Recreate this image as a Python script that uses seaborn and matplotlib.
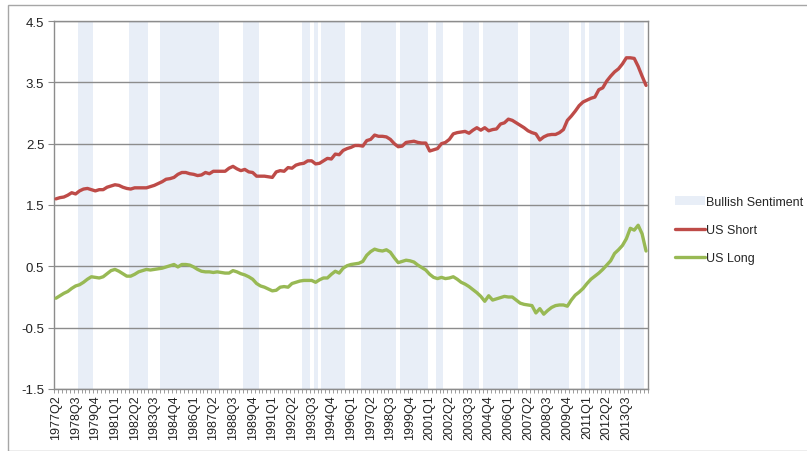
import matplotlib
matplotlib.use("Agg")
import matplotlib.pyplot as plt
from matplotlib.patches import Patch, Rectangle
from matplotlib.lines import Line2D
import numpy as np
import pandas as pd
import seaborn as sns

# ---------------- data ----------------
start_year, start_q, n_quarters = 1977, 2, 151
quarters = []
y, q = start_year, start_q
for _ in range(n_quarters):
    quarters.append(f"{y}Q{q}")
    q += 1
    if q > 4:
        q, y = 1, y + 1

us_short = [
    1.60, 1.62, 1.63, 1.66, 1.70, 1.68, 1.73, 1.76, 1.77, 1.75,
    1.73, 1.75, 1.75, 1.79, 1.81, 1.83, 1.82, 1.79, 1.77, 1.76,
    1.78, 1.78, 1.78, 1.78, 1.80, 1.82, 1.85, 1.88, 1.92, 1.93,
    1.95, 2.00, 2.03, 2.03, 2.01, 2.00, 1.98, 1.99, 2.03, 2.01,
    2.05, 2.05, 2.05, 2.05, 2.10, 2.13, 2.09, 2.06, 2.08, 2.04,
    2.03, 1.97, 1.97, 1.97, 1.96, 1.95, 2.04, 2.06, 2.05, 2.11,
    2.10, 2.15, 2.17, 2.18, 2.22, 2.22, 2.17, 2.18, 2.22, 2.26,
    2.25, 2.33, 2.32, 2.39, 2.42, 2.44, 2.47, 2.47, 2.46, 2.55,
    2.57, 2.64, 2.62, 2.62, 2.61, 2.57, 2.50, 2.45, 2.46, 2.52,
    2.53, 2.54, 2.52, 2.51, 2.51, 2.38, 2.40, 2.42, 2.50, 2.52,
    2.57, 2.66, 2.68, 2.69, 2.70, 2.67, 2.72, 2.76, 2.72, 2.76,
    2.71, 2.73, 2.74, 2.82, 2.84, 2.90, 2.88, 2.84, 2.80, 2.76,
    2.71, 2.68, 2.66, 2.56, 2.61, 2.64, 2.65, 2.65, 2.68, 2.73,
    2.88, 2.95, 3.03, 3.12, 3.18, 3.21, 3.24, 3.26, 3.38, 3.41,
    3.52, 3.60, 3.67, 3.72, 3.80, 3.90, 3.90, 3.89, 3.76, 3.60,
    3.45,
]

us_long = [
    -0.02, 0.02, 0.06, 0.09, 0.14, 0.18, 0.20, 0.24, 0.29, 0.33,
    0.32, 0.31, 0.33, 0.38, 0.43, 0.45, 0.42, 0.38, 0.34, 0.34,
    0.37, 0.41, 0.43, 0.45, 0.44, 0.45, 0.46, 0.47, 0.49, 0.51,
    0.53, 0.49, 0.53, 0.53, 0.52, 0.49, 0.45, 0.42, 0.41, 0.41,
    0.40, 0.41, 0.40, 0.39, 0.39, 0.43, 0.41, 0.38, 0.36, 0.33,
    0.29, 0.22, 0.18, 0.16, 0.13, 0.10, 0.11, 0.16, 0.17, 0.16,
    0.22, 0.24, 0.26, 0.27, 0.27, 0.27, 0.24, 0.28, 0.31, 0.31,
    0.37, 0.42, 0.39, 0.47, 0.51, 0.53, 0.54, 0.55, 0.58, 0.68,
    0.74, 0.78, 0.76, 0.75, 0.77, 0.73, 0.64, 0.56, 0.58, 0.60,
    0.59, 0.57, 0.52, 0.48, 0.44, 0.37, 0.32, 0.30, 0.32, 0.30,
    0.31, 0.33, 0.29, 0.24, 0.21, 0.17, 0.12, 0.07, 0.01, -0.07,
    0.02, -0.05, -0.03, -0.01, 0.01, 0.00, 0.00, -0.05, -0.10, -0.12,
    -0.13, -0.14, -0.26, -0.19, -0.28, -0.22, -0.17, -0.14, -0.13, -0.13,
    -0.15, -0.05, 0.03, 0.08, 0.14, 0.22, 0.29, 0.34, 0.39, 0.45,
    0.52, 0.59, 0.71, 0.77, 0.84, 0.95, 1.12, 1.09, 1.17, 1.03,
    0.75,
]

# bullish sentiment periods (first quarter, last quarter)
bullish_periods = [
    ("1978Q4", "1979Q3"), ("1982Q1", "1983Q1"), ("1984Q1", "1987Q3"),
    ("1989Q2", "1990Q1"), ("1993Q1", "1993Q2"), ("1993Q4", "1993Q4"),
    ("1994Q2", "1995Q3"), ("1996Q4", "1998Q4"), ("1999Q2", "2000Q4"),
    ("2001Q3", "2001Q4"), ("2003Q2", "2004Q1"), ("2004Q3", "2006Q3"),
    ("2007Q3", "2009Q4"), ("2010Q4", "2010Q4"), ("2011Q2", "2013Q1"),
    ("2013Q3", "2014Q3"),
]

y_min, y_max = -1.5, 4.5
y_ticks = [-1.5, -0.5, 0.5, 1.5, 2.5, 3.5, 4.5]

# ---------------- styling ----------------
sns.set_style("white")
plt.rcParams["font.family"] = ["Liberation Sans", "DejaVu Sans"]

RED = "#BE4B48"
GREEN = "#98B954"
SHADE = "#E8EEF7"
GRID = "#8C8C8C"

fig = plt.figure(figsize=(8.07, 4.52), dpi=100)
ax = fig.add_axes([54 / 807, 1 - 390 / 452, (648 - 54) / 807, (390 - 22) / 452])

x = np.arange(n_quarters)
idx = {lab: i for i, lab in enumerate(quarters)}
sentiment = np.zeros(n_quarters)
for a, b in bullish_periods:
    sentiment[idx[a]: idx[b] + 1] = 1

# shaded columns
ax.bar(x, sentiment * (y_max - y_min), bottom=y_min, width=1.0,
       color=SHADE, linewidth=0, zorder=1)

df = pd.DataFrame({
    "x": np.concatenate([x, x]),
    "value": us_short + us_long,
    "series": ["US Short"] * n_quarters + ["US Long"] * n_quarters,
})
sns.lineplot(data=df, x="x", y="value", hue="series",
             palette={"US Short": RED, "US Long": GREEN},
             linewidth=2.4, ax=ax, legend=False, zorder=3)

ax.set_xlim(-0.5, n_quarters - 0.5)
ax.set_ylim(y_min, y_max)
ax.set_yticks(y_ticks)
ax.set_yticklabels([f"{v:.1f}" for v in y_ticks], fontsize=9.5, color="#222222")
ax.yaxis.grid(True, color=GRID, linewidth=1.0, zorder=2)
ax.set_axisbelow(False)
for gl in ax.get_ygridlines():
    gl.set_zorder(2)

major = list(range(0, n_quarters - 1, 5))
ax.set_xticks(major)
ax.set_xticklabels([quarters[i] for i in major], rotation=90, fontsize=9,
                   color="#222222")
ax.set_xticks(np.arange(-0.5, n_quarters, 1.0), minor=True)
ax.tick_params(axis="x", which="major", length=0, pad=4)
ax.tick_params(axis="x", which="minor", length=3, width=0.6, color=GRID,
               direction="out", bottom=True)
ax.tick_params(axis="y", which="major", length=4, width=0.8, color=GRID,
               direction="out", left=True, pad=3)
ax.set_xlabel("")
ax.set_ylabel("")

for side in ["left", "bottom", "right", "top"]:
    ax.spines[side].set_visible(True)
    ax.spines[side].set_color(GRID)
    ax.spines[side].set_linewidth(1.0)

handles = [
    Patch(facecolor=SHADE, edgecolor="none"),
    Line2D([0], [0], color=RED, linewidth=2.4),
    Line2D([0], [0], color=GREEN, linewidth=2.4),
]
labels = ["Bullish Sentiment", "US Short", "US Long"]
fig.legend(handles, labels, loc="center left",
           bbox_to_anchor=(670 / 807, 1 - 231 / 452), frameon=False,
           fontsize=9, handlelength=2.4, handleheight=0.7,
           handletextpad=0.1, labelspacing=1.3, borderaxespad=0)

# chart-area border
fig.patches.append(Rectangle((8 / 807, 0.5 / 452), 1.2, 1 - 6.5 / 452,
                             transform=fig.transFigure, fill=False,
                             edgecolor="#A6A6A6", linewidth=1.0))

fig.savefig("out.png", dpi=100)
